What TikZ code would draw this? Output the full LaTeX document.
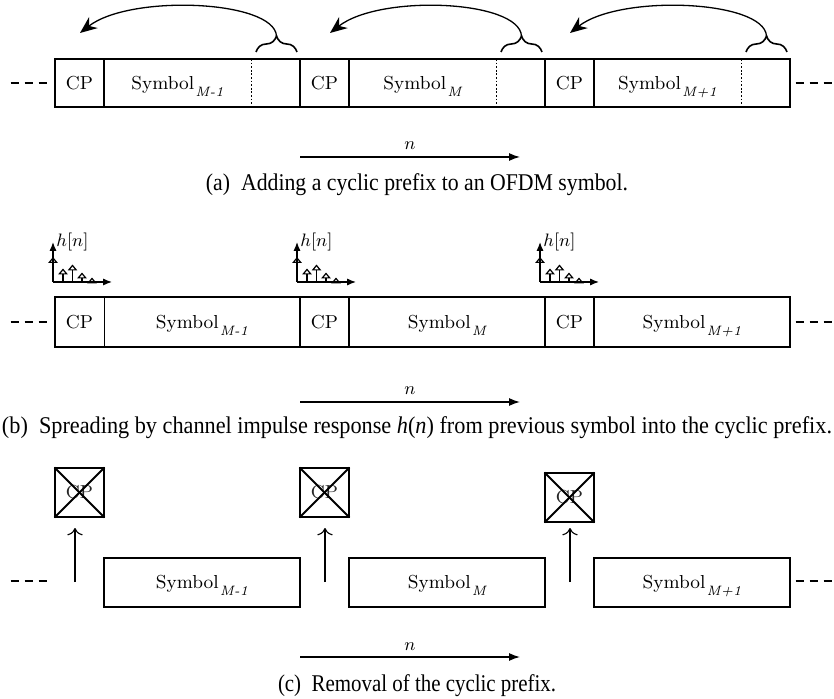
\documentclass[tikz,border=0pt]{standalone}
\usepackage{fontspec}
\usepackage{graphicx}
\newfontfamily\capfont{Liberation Serif}
\usetikzlibrary{arrows.meta,decorations.pathreplacing}
% symbol label with a lowered italic index
\newcommand\symlbl[1]{Symbol\kern0.6pt\raisebox{-3.4pt}{\fontsize{6.8}{8}\selectfont\itshape #1}}

\begin{document}
\begin{tikzpicture}[x=0.5pt,y=-0.5pt,
  txt/.style={font=\fontsize{9.4}{11}\selectfont, inner sep=0pt, anchor=base},
  frame/.style={line width=0.65pt},
  tail/.style={line width=0.45pt, dash pattern=on 0.9pt off 0.9pt},
  gapdash/.style={line width=1.2pt, dash pattern=on 4.25pt off 2.75pt},
  timeaxis/.style={line width=0.65pt, -{Latex[length=5.5pt,width=4pt]}},
  copyback/.style={line width=0.65pt, -{Stealth[length=8.5pt,width=7pt]}},
  cpbrace/.style={line width=0.8pt, decorate, decoration={brace, amplitude=8pt}},
  haxis/.style={line width=0.65pt, -{Latex[length=4.5pt,width=3.6pt]}},
  tap/.style={line width=0.6pt, -{Triangle[open,length=3pt,width=4.8pt]}},
  lift/.style={line width=0.55pt, -{To[scale=1.3]}},
  cross/.style={draw, line width=0.55pt, minimum width=24.5pt, minimum height=24.5pt,
    inner sep=0pt, font=\fontsize{9.4}{11}\selectfont, text=black!85},
  strike/.style={line width=0.95pt},
  caption/.style={font=\capfont\fontsize{12}{14}\selectfont, inner sep=0pt}
]
\useasboundingbox (0,0) rectangle (834,699);

% ---------- (a) cyclic prefix copied from the symbol tail ----------
\draw[frame] (55,59) rectangle (790,107);
\foreach \x in {104,300,349,545,594} \draw[frame] (\x,59) -- (\x,107);
\foreach \x in {251,496,741} \draw[tail] (\x,59) -- (\x,107);
\node[txt] (acp0) at (79.5,89.5) {CP};
\node[txt] (acp1) at (324.5,89.5) {CP};
\node[txt] (acp2) at (569.5,89.5) {CP};
\node[txt] (asy0) at (177.5,89.5) {\symlbl{M-1}};
\node[txt] (asy1) at (422.5,89.5) {\symlbl{M}};
\node[txt] (asy2) at (667.5,89.5) {\symlbl{M+1}};
\draw[gapdash] (10.5,83) -- (47,83);
\draw[gapdash] (795.5,83) -- (832,83);
\foreach \i/\bl/\tip in {0/256/80, 1/501/330, 2/746/570} {
  \draw[cpbrace] (\bl,52) -- ({\bl+41},52);
  \coordinate (cusp\i) at ({\bl+20.5},36);
  \coordinate (dest\i) at (\tip,33);
  \draw[copyback] (cusp\i) .. controls ({\bl+18},0) and ({\tip+50},-6) .. (dest\i);
}
\coordinate (na0) at (300,157);
\coordinate (na1) at (520,157);
\draw[timeaxis] (na0) -- (na1);
\node[txt] (nla) at (410,150) {$n$};
\node[caption] (capa) at (417,185)
  {\resizebox{211pt}{\height}{(a)\enspace Adding a cyclic prefix to an OFDM symbol.}};

% ---------- (b) channel impulse response spreading ----------
\draw[frame] (55,297) rectangle (790,347);
\foreach \x in {104.5,300,349,545,594} \draw[frame] (\x,297) -- (\x,347);
\node[txt] (bcp0) at (79.5,328.5) {CP};
\node[txt] (bcp1) at (324.5,328.5) {CP};
\node[txt] (bcp2) at (569.5,328.5) {CP};
\node[txt] (bsy0) at (202,328.5) {\symlbl{M-1}};
\node[txt] (bsy1) at (447,328.5) {\symlbl{M}};
\node[txt] (bsy2) at (692,328.5) {\symlbl{M+1}};
\draw[gapdash] (10.5,322) -- (47,322);
\draw[gapdash] (795.5,322) -- (832,322);
\foreach \i/\ox in {0/53, 1/297, 2/540} {
  \coordinate (org\i) at (\ox,282);
  \coordinate (yend\i) at (\ox,242);
  \coordinate (xend\i) at ({\ox+59},282);
  \draw[haxis] (org\i) -- (yend\i);
  \draw[haxis] (org\i) -- (xend\i);
  \node[txt, anchor=base west] (hlab\i) at ({\ox+3},247) {$h[n]$};
  \draw[tap] (org\i) -- (\ox,257);
  \draw[tap] ({\ox+10},282) -- ({\ox+10},268.5);
  \draw[tap] ({\ox+19.5},282) -- ({\ox+19.5},264.5);
  \draw[tap] ({\ox+29},282) -- ({\ox+29},272.5);
  \draw[tap] ({\ox+39},282) -- ({\ox+39},277.5);
}
\coordinate (nb0) at (300,402);
\coordinate (nb1) at (520,402);
\draw[timeaxis] (nb0) -- (nb1);
\node[txt] (nlb) at (410,395) {$n$};
\node[caption] (capb) at (417,428)
  {\resizebox{415pt}{\height}{(b)\enspace Spreading by channel impulse response \textit{h}(\textit{n}) from previous symbol into the cyclic prefix.}};

% ---------- (c) prefix removal ----------
\node[cross] (xcp0) at (79.5,492.5) {CP};
\node[cross] (xcp1) at (324.5,492.5) {CP};
\node[cross] (xcp2) at (569.5,497.5) {CP};
\foreach \i in {0,1,2} {
  \draw[strike] (xcp\i.north west) -- (xcp\i.south east);
  \draw[strike] (xcp\i.north east) -- (xcp\i.south west);
}
\foreach \i/\ax in {0/75, 1/325, 2/570} {
  \coordinate (lo\i) at (\ax,582);
  \coordinate (hi\i) at (\ax,528);
  \draw[lift] (lo\i) -- (hi\i);
}
\draw[frame] (104,558) rectangle (300,607);
\draw[frame] (349,558) rectangle (545,607);
\draw[frame] (594,558) rectangle (790,607);
\node[txt] (csy0) at (202,588.5) {\symlbl{M-1}};
\node[txt] (csy1) at (447,588.5) {\symlbl{M}};
\node[txt] (csy2) at (692,588.5) {\symlbl{M+1}};
\draw[gapdash] (10.5,581) -- (47,581);
\draw[gapdash] (795.5,581) -- (832,581);
\coordinate (nc0) at (300,657);
\coordinate (nc1) at (520,657);
\draw[timeaxis] (nc0) -- (nc1);
\node[txt] (nlc) at (410,650) {$n$};
\node[caption] (capc) at (417,686)
  {\resizebox{139pt}{\height}{(c)\enspace Removal of the cyclic prefix.}};
\end{tikzpicture}
\end{document}
